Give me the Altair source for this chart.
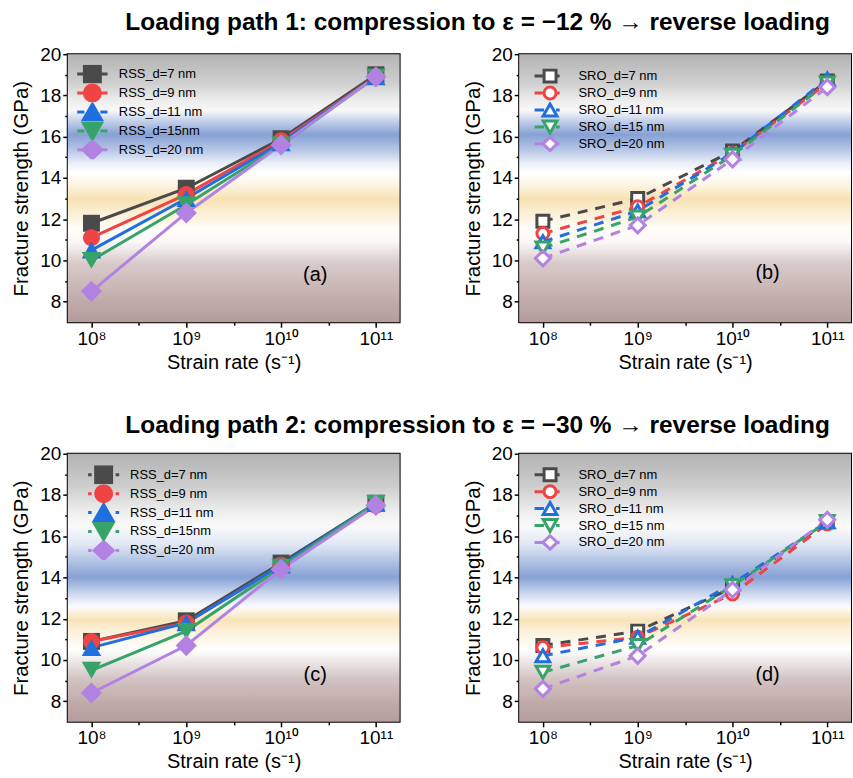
import altair as alt
import pandas as pd

rates = [1e8, 1e9, 1e10, 1e11]

rss_names = ["RSS_d=7 nm", "RSS_d=9 nm", "RSS_d=11 nm", "RSS_d=15nm", "RSS_d=20 nm"]
sro_names = ["SRO_d=7 nm", "SRO_d=9 nm", "SRO_d=11 nm", "SRO_d=15 nm", "SRO_d=20 nm"]
colors = ["#4a4a4a", "#f04343", "#1f6fdf", "#37a36a", "#b282e2"]

# (a) RSS, loading path 1
a_d7 = [11.8, 13.5, 15.9, 19.0]
a_d9 = [11.1, 13.2, 15.8, 18.9]
a_d11 = [10.5, 13.0, 15.7, 18.9]
a_d15 = [10.0, 12.7, 15.6, 18.9]
a_d20 = [8.5, 12.3, 15.6, 18.9]
# (b) SRO, loading path 1
b_d7 = [11.9, 13.0, 15.3, 18.7]
b_d9 = [11.3, 12.6, 15.2, 18.6]
b_d11 = [10.9, 12.4, 15.2, 18.8]
b_d15 = [10.6, 12.1, 15.1, 18.6]
b_d20 = [10.1, 11.7, 14.9, 18.4]
# (c) RSS, loading path 2
c_d7 = [10.9, 11.9, 14.7, 17.6]
c_d9 = [10.9, 11.8, 14.6, 17.5]
c_d11 = [10.6, 11.8, 14.6, 17.6]
c_d15 = [9.5, 11.4, 14.5, 17.6]
c_d20 = [8.4, 10.7, 14.4, 17.5]
# (d) SRO, loading path 2
d_d7 = [10.7, 11.4, 13.5, 16.7]
d_d9 = [10.6, 11.1, 13.2, 16.6]
d_d11 = [10.2, 11.1, 13.7, 16.7]
d_d15 = [9.4, 10.7, 13.6, 16.7]
d_d20 = [8.6, 10.2, 13.4, 16.8]

y_major = [8, 10, 12, 14, 16, 18, 20]
y_minor = [9, 11, 13, 15, 17, 19]
x_minor = [10 ** 8.5, 10 ** 9.5, 10 ** 10.5]

FONT = "Liberation Sans, Arial, sans-serif"

SQ = "M-1,-1L1,-1L1,1L-1,1Z"
CI = "M1,0A1,1,0,1,1,-1,0A1,1,0,1,1,1,0Z"
TU = "M0,-1L1.15,1L-1.15,1Z"
TD = "M0,1L1.15,-1L-1.15,-1Z"
DI = "M0,-1.25L1.25,0L0,1.25L-1.25,0Z"
DI_LEG = "M0,-1.12L1.2,0L0,1.12L-1.2,0Z"
markers = [SQ, CI, TU, TD, DI]


def stub_paths(kind):
    shapes = [SQ, CI, TU, TD, DI_LEG]
    edges = [1, 1, 1, 1, 1.2]
    out = []
    for m, e in zip(shapes, edges):
        if kind == "solid":
            s = f"M-1.9,0L-{e},0M{e},0L1.9,0"
        elif kind == "dots":
            s = "M-1.95,0L-1.5,0M1.5,0L1.95,0"
        else:  # hollow
            s = f"M-2.6,0L-{e},0M{e},0L1.6,0"
        out.append(s + m)
    return out


def long_df(names, arrays):
    rows = []
    for i, (n, arr) in enumerate(zip(names, arrays)):
        for r, v in zip(rates, arr):
            rows.append({"series": n, "rate": r, "value": v, "idx": i})
    return pd.DataFrame(rows)


def gradient(stops):
    return alt.Gradient(
        gradient="linear",
        stops=[alt.GradientStop(offset=o, color=c) for o, c in stops],
        x1=0, x2=0, y1=0, y2=1,
    )


top_grad = gradient([
    (0.0, "#b3b3b3"), (0.11, "#d0d0d0"), (0.17, "#ececec"), (0.21, "#f8f8f8"),
    (0.245, "#c9d4ec"), (0.30, "#87a1d4"), (0.357, "#b6c6e6"), (0.405, "#e8edf7"),
    (0.44, "#ffffff"), (0.48, "#fdf7ea"), (0.54, "#f7e2b3"), (0.59, "#fbeed3"),
    (0.65, "#fffdf8"), (0.70, "#fbf8f8"), (0.78, "#d9caca"), (0.925, "#c0aaa9"),
    (1.0, "#b49c9b"),
])
bot_grad = gradient([
    (0.0, "#b3b3b3"), (0.12, "#cdcdcd"), (0.22, "#efefef"), (0.27, "#fafafa"),
    (0.34, "#dfe6f4"), (0.46, "#86a1d4"), (0.53, "#d5def1"), (0.57, "#fbfbfd"),
    (0.62, "#f8e4b8"), (0.67, "#fcf2de"), (0.73, "#ffffff"), (0.84, "#d3c3c3"),
    (0.93, "#c0aaa9"), (1.0, "#b49c9b"),
])

W, H = 333, 269


def exp_label():
    return ("'10' + (round(log(datum.value)/LN10) == 8 ? '⁸' : "
            "round(log(datum.value)/LN10) == 9 ? '⁹' : "
            "round(log(datum.value)/LN10) == 10 ? '¹⁰' : '¹¹')")


def panel(names, arrays, hollow, dashed, stub_kind, grad, tag, tag_x, tag_y, leg_x, leg_y):
    df = long_df(names, arrays)
    xs = alt.Scale(type="log", domain=[10 ** 7.75, 10 ** 11.25], nice=False)
    ys = alt.Scale(domain=[7, 20], nice=False, zero=False)

    bg = alt.Chart(pd.DataFrame({"k": [0]})).mark_rect(fill=grad, strokeWidth=0).encode(
        x=alt.value(0), x2=alt.value("width"), y=alt.value(0), y2=alt.value("height"))

    def axl(xaxis, yaxis):
        return alt.Chart(df).mark_point(opacity=0).encode(
            x=alt.X("rate:Q", scale=xs, axis=xaxis),
            y=alt.Y("value:Q", scale=ys, axis=yaxis))

    common = dict(domain=False, grid=False, tickColor="black", tickWidth=1.5)
    ax_main = axl(
        alt.Axis(orient="bottom", values=rates, labelExpr=exp_label(), tickSize=5,
                 labelFontSize=19, labelPadding=2, labelOverlap=False, labelFlush=False,
                 title="Strain rate (s⁻¹)", titleFontSize=20, titleFontWeight="normal",
                 titlePadding=4, **common),
        alt.Axis(orient="left", values=y_major, tickSize=5, labelFontSize=19, labelPadding=2,
                 labelOverlap=False, labelFlush=False,
                 title="Fracture strength (GPa)", titleFontSize=20.5, titleFontWeight="normal",
                 titlePadding=8, **common))
    ax_minor = axl(
        alt.Axis(orient="bottom", values=x_minor, tickSize=3, labels=False, title=None, **common),
        alt.Axis(orient="left", values=y_minor, tickSize=3, labels=False, title=None, **common))
    ax_top = axl(
        alt.Axis(orient="top", values=rates, tickSize=5, offset=-5, labels=False, title=None, **common),
        alt.Axis(orient="right", values=y_major, tickSize=5, offset=-5, labels=False, title=None, **common))
    ax_top_minor = axl(
        alt.Axis(orient="top", values=x_minor, tickSize=3, offset=-3, labels=False, title=None, **common),
        alt.Axis(orient="right", values=y_minor, tickSize=3, offset=-3, labels=False, title=None, **common))

    line_kw = dict(strokeWidth=3)
    if dashed:
        line_kw["strokeDash"] = [10, 8]
    lines = alt.Chart(df).mark_line(**line_kw).encode(
        x=alt.X("rate:Q", scale=xs, axis=None),
        y=alt.Y("value:Q", scale=ys, axis=None),
        color=alt.Color("series:N", scale=alt.Scale(domain=names, range=colors), legend=None),
        order=alt.Order("rate:Q"))

    if hollow:
        pmark = alt.Chart(df).mark_point(filled=False, fill="white", size=144, strokeWidth=3, opacity=1)
    else:
        pmark = alt.Chart(df).mark_point(filled=True, size=289, opacity=1)
    pts = pmark.encode(
        x=alt.X("rate:Q", scale=xs, axis=None),
        y=alt.Y("value:Q", scale=ys, axis=None),
        color=alt.Color("series:N", scale=alt.Scale(domain=names, range=colors), legend=None),
        shape=alt.Shape("series:N", scale=alt.Scale(domain=names, range=markers), legend=None),
        order=alt.Order("idx:Q"))

    leg_kw = dict(title=None, orient="none", legendX=leg_x, legendY=leg_y, labelFontSize=13,
                  labelFont=FONT, symbolStrokeWidth=3, padding=0, labelLimit=0, rowPadding=0)
    if hollow:
        leg_kw.update(symbolSize=144, symbolOffset=8.5, labelOffset=21,
                      symbolFillColor="white", clipHeight=17)
    else:
        leg_kw.update(symbolSize=256, symbolOffset=6.5, labelOffset=17, clipHeight=19)
    L = alt.Legend(**leg_kw)
    lpaths = stub_paths(stub_kind)
    if hollow:
        leg = alt.Chart(df).transform_filter("false").mark_point(
            filled=False, fill="white", size=144, strokeWidth=3, opacity=1,
            strokeJoin="round").encode(
            x=alt.X("rate:Q", scale=xs, axis=None),
            y=alt.Y("value:Q", scale=ys, axis=None),
            stroke=alt.Stroke("series:N", scale=alt.Scale(domain=names, range=colors), legend=L),
            shape=alt.Shape("series:N", scale=alt.Scale(domain=names, range=lpaths), legend=L))
    else:
        leg = alt.Chart(df).transform_filter("false").mark_point(
            filled=True, size=256, strokeWidth=3, opacity=1, strokeJoin="round").encode(
            x=alt.X("rate:Q", scale=xs, axis=None),
            y=alt.Y("value:Q", scale=ys, axis=None),
            fill=alt.Fill("series:N", scale=alt.Scale(domain=names, range=colors), legend=L),
            stroke=alt.Stroke("series:N", scale=alt.Scale(domain=names, range=colors), legend=L),
            shape=alt.Shape("series:N", scale=alt.Scale(domain=names, range=lpaths), legend=L))

    txt = alt.Chart(pd.DataFrame({"x": [tag_x], "y": [tag_y], "t": [tag]})).mark_text(
        fontSize=20, font=FONT, color="black").encode(
        x=alt.X("x:Q", scale=xs, axis=None),
        y=alt.Y("y:Q", scale=ys, axis=None),
        text="t:N")

    return alt.layer(bg, ax_main, ax_minor, ax_top, ax_top_minor, lines, pts, leg, txt).resolve_scale(
        shape="independent", fill="independent", stroke="independent"
    ).resolve_axis(x="independent", y="independent").properties(width=W, height=H)


pa = panel(rss_names, [a_d7, a_d9, a_d11, a_d15, a_d20], False, False, "solid", top_grad,
           "(a)", 10 ** 10.36, 9.3, 8.7, 10.5)
pb = panel(sro_names, [b_d7, b_d9, b_d11, b_d15, b_d20], True, True, "hollow", top_grad,
           "(b)", 10 ** 10.37, 9.4, 15, 13.5)
pc = panel(rss_names, [c_d7, c_d9, c_d11, c_d15, c_d20], False, False, "dots", bot_grad,
           "(c)", 10 ** 10.36, 9.27, 20, 11.5)
pd_ = panel(sro_names, [d_d7, d_d9, d_d11, d_d15, d_d20], True, True, "hollow", bot_grad,
            "(d)", 10 ** 10.37, 9.27, 15, 12.5)

TFONT = "Liberation Sans Narrow, Liberation Sans, Arial, sans-serif"
row1 = alt.hconcat(pa, pb, spacing=60, title=alt.TitleParams(
    "Loading path 1: compression to ε = −12 % → reverse loading",
    fontSize=24.5, fontWeight="bold", anchor="middle", dx=46, offset=9, font=TFONT, color="black"))
row2 = alt.hconcat(pc, pd_, spacing=60, title=alt.TitleParams(
    "Loading path 2: compression to ε = −30 % → reverse loading",
    fontSize=24.5, fontWeight="bold", anchor="middle", dx=46, offset=5, font=TFONT, color="black"))

chart = alt.vconcat(row1, row2, spacing=40).properties(
    padding={"left": 10, "top": 8, "right": 0, "bottom": 5},
    background="white",
).configure_view(stroke="black", strokeWidth=2).configure_axis(
    labelFont=FONT, titleFont=FONT, labelColor="black", titleColor="black")

chart.save("out.html", embed_options={"renderer": "svg", "actions": False})
